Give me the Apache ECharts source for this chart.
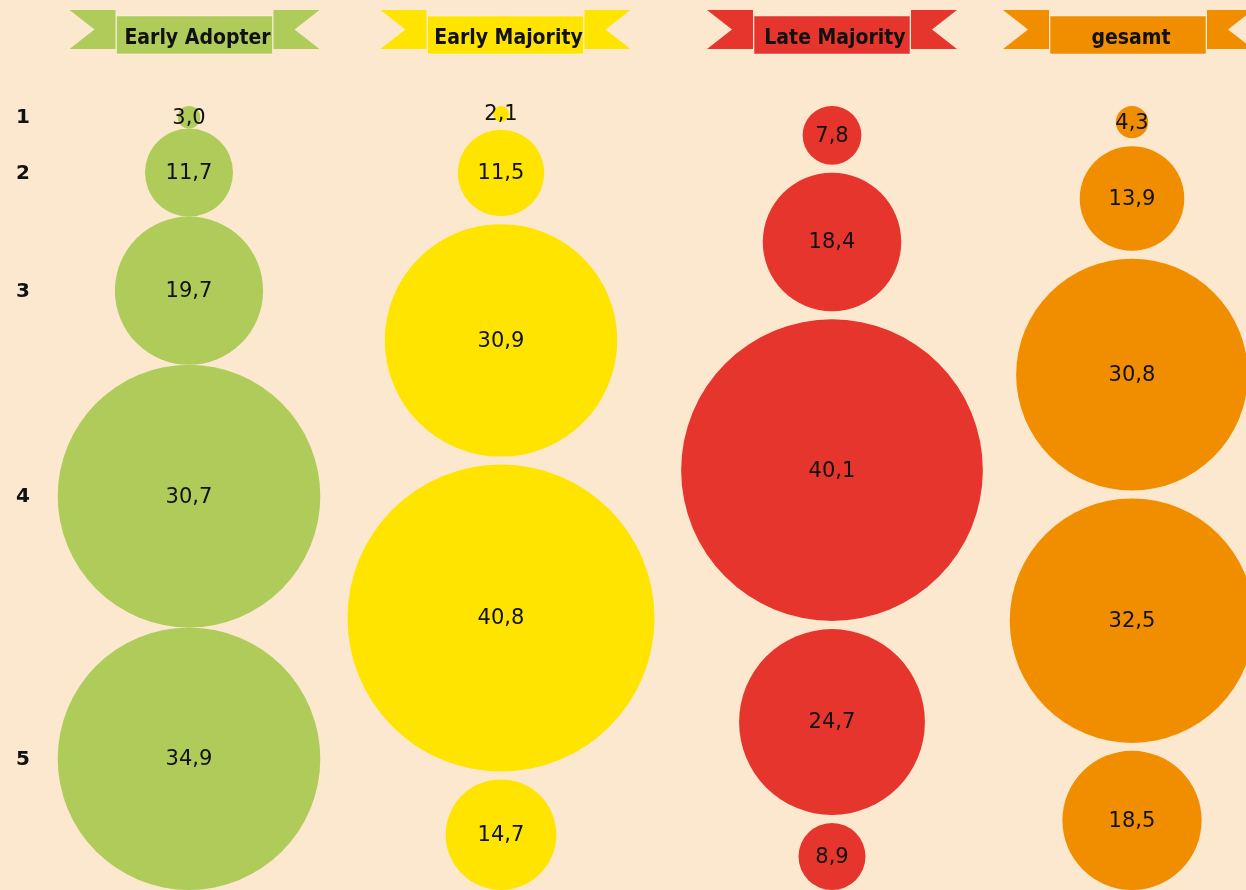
<!DOCTYPE html>
<html><head><meta charset="utf-8">
<script src="https://cdn.jsdelivr.net/npm/echarts@6/dist/echarts.min.js"></script>
<style>html,body{margin:0;padding:0;background:#FCE8CF;} #chart{width:1246px;height:890px;}</style>
</head><body><div id="chart"></div>
<script>
// ---- data ----
const groups = ['Early Adopter', 'Early Majority', 'Late Majority', 'gesamt'];
const rowLabels = ['1', '2', '3', '4', '5'];
const earlyAdopter  = [3.0, 11.7, 19.7, 30.7, 34.9];
const earlyMajority = [2.1, 11.5, 30.9, 40.8, 14.7];
const lateMajority  = [7.8, 18.4, 40.1, 24.7, 8.9];
const gesamt        = [4.3, 13.9, 30.8, 32.5, 18.5];
// circle sizes as drawn in the source graphic (its "30,7" circle is drawn at the size of 34,9)
const earlyAdopterDrawn = [3.0, 11.7, 19.7, 34.9, 34.9];

// ---- layout / style ----
const colors = ['#AFCC5A', '#FFE400', '#E6352D', '#F18E00'];
const columnCenters = [189, 501, 832, 1132];
const bannerCenters = [194.5, 505.5, 832, 1128];
const labelValues = [earlyAdopter, earlyMajority, lateMajority, gesamt];
const drawnValues = [earlyAdopterDrawn, earlyMajority, lateMajority, gesamt];

const sum = a => a.reduce((s, v) => s + v, 0);
const yMax = Math.max(...drawnValues.map(sum));
const fmt = v => v.toFixed(1).replace('.', ',');

function columnData(i) {
  const sizes = drawnValues[i];
  const gap = (yMax - sum(sizes)) / (sizes.length - 1);
  let top = 0;
  return sizes.map((d, k) => {
    const item = [0, top + d / 2, d, labelValues[i][k], k];
    top += d + gap;
    return item;
  });
}

const grids = [], xAxes = [], yAxes = [], series = [];
groups.forEach((g, i) => {
  grids.push({ left: columnCenters[i] - 50, width: 100, top: 106, height: 787 });
  xAxes.push({ type: 'category', data: [g], gridIndex: i, show: false });
  yAxes.push({ type: 'value', inverse: true, min: 0, max: yMax, gridIndex: i, show: false });
  series.push({
    type: 'custom',
    xAxisIndex: i, yAxisIndex: i,
    data: columnData(i),
    encode: { x: 0, y: 1 },
    clip: false,
    renderItem: function (params, api) {
      const c = api.coord([api.value(0), api.value(1)]);
      const d = api.size([0, api.value(2)])[1];
      const children = [
        { type: 'circle', shape: { cx: c[0], cy: c[1], r: d / 2 }, style: { fill: colors[i] } },
        { type: 'text', z2: 10, style: { text: fmt(api.value(3)), x: c[0], y: c[1] + 1, align: 'center', verticalAlign: 'middle',
            font: '21px "DejaVu Sans", Verdana, sans-serif', fill: '#111' } }
      ];
      if (i === 0) {
        children.push({ type: 'text', z2: 10, style: { text: rowLabels[api.value(4)], x: 23, y: c[1] + 1, align: 'center', verticalAlign: 'middle',
          font: 'bold 20px "DejaVu Sans", sans-serif', fill: '#111' } });
      }
      return { type: 'group', children: children };
    }
  });
});

const graphic = [];
groups.forEach((g, i) => {
  const cx = bannerCenters[i];
  graphic.push({ type: 'polygon', shape: { points: [[cx - 125, 10], [cx - 79, 10], [cx - 79, 49], [cx - 125, 49], [cx - 100, 29.5]] }, style: { fill: colors[i] } });
  graphic.push({ type: 'polygon', shape: { points: [[cx + 79, 10], [cx + 125, 10], [cx + 100, 29.5], [cx + 125, 49], [cx + 79, 49]] }, style: { fill: colors[i] } });
  graphic.push({ type: 'rect', shape: { x: cx - 78, y: 16, width: 156, height: 38 }, style: { fill: colors[i], stroke: 'rgba(255,255,255,0.45)', lineWidth: 1 } });
  graphic.push({ type: 'text', style: { text: g, x: cx + 3, y: 39, align: 'center', verticalAlign: 'middle',
    font: 'bold 21px "DejaVu Sans Condensed", "DejaVu Sans", sans-serif', fill: '#111' } });
});

const chart = echarts.init(document.getElementById('chart'));
chart.setOption({
  backgroundColor: '#FCE8CF',
  animation: false,
  grid: grids, xAxis: xAxes, yAxis: yAxes,
  series: series,
  graphic: graphic
});
</script></body></html>
